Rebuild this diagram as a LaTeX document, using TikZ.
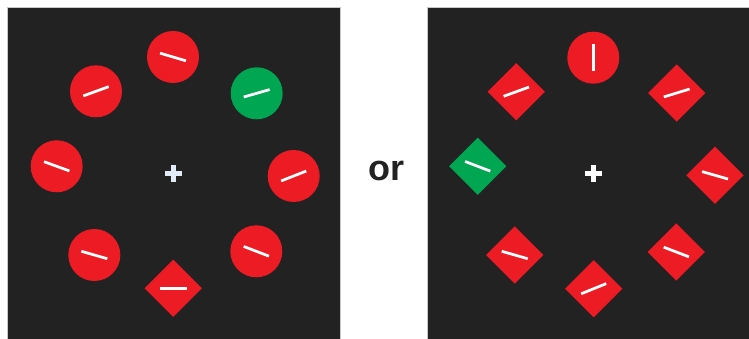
\documentclass[tikz,border=0pt]{standalone}
\usepackage{fontspec}
\setmainfont{Liberation Sans}
\usetikzlibrary{calc,shapes.geometric}
\definecolor{bgdark}{HTML}{222222}
\definecolor{stimred}{HTML}{ED1C24}
\definecolor{stimgreen}{HTML}{00A651}
\definecolor{fixblue}{HTML}{E2ECF8}
\definecolor{edgegray}{HTML}{C8C8C8}
\tikzset{
  x=1pt,y=1pt,
  panel/.style={fill=bgdark,draw=edgegray,line width=0.8pt},
  disc/.style={circle,fill=stimred,minimum size=52pt,inner sep=0pt},
  rhomb/.style={diamond,aspect=1,fill=stimred,minimum width=57.4pt,minimum height=57.4pt,inner sep=0pt},
  target/.style={fill=stimgreen},
  seg/.style={draw=white,line width=2.7pt},
}
\newcommand\segm[2]{\draw[seg] ($(#1)+(#2:13.5)$) -- ($(#1)+({#2+180}:13.5)$);}
\newcommand\fixcross[2]{\fill[#2] ($(#1)+(-8.5,-2.5)$) rectangle ($(#1)+(8.5,2.5)$);
  \fill[#2] ($(#1)+(-2.5,-8.5)$) rectangle ($(#1)+(2.5,8.5)$);}
\begin{document}
\begin{tikzpicture}
\useasboundingbox (0,0) rectangle (749,339);
\fill[white] (0,0) rectangle (749,339);
% panels
\draw[panel] (7,-2) rectangle (340,332);
\draw[panel] (427.3,-2) rectangle (752,332);
% left panel
\node[disc] (L1) at (173,282) {};
\node[disc] (L2) at (96,247.7) {};
\node[disc,target] (L3) at (256.7,245.7) {};
\node[disc] (L4) at (56.7,172.7) {};
\node[disc] (L5) at (293.7,163) {};
\node[disc] (L6) at (94.3,84) {};
\node[disc] (L7) at (256.3,87.7) {};
\node[rhomb] (L8) at (173.3,50.7) {};
\segm{L1}{-16.5}
\segm{L2}{20}
\segm{L3}{16}
\segm{L4}{-20}
\segm{L5}{21.5}
\segm{L6}{-16}
\segm{L7}{-21}
\segm{L8}{0}
\coordinate (LF) at (173.3,165.7);
\fixcross{LF}{fixblue}
% or
\node[font=\fontsize{36}{40}\selectfont\bfseries,text=bgdark,inner sep=0pt] (or) at (386,167.7) {or};
% right panel
\node[disc] (R1) at (593.3,281.3) {};
\node[rhomb] (R2) at (516.3,247.3) {};
\node[rhomb] (R3) at (676.7,246) {};
\node[rhomb,target] (R4) at (477.7,172.7) {};
\node[rhomb] (R5) at (715,163.7) {};
\node[rhomb] (R6) at (514.7,84) {};
\node[rhomb] (R7) at (676.3,87) {};
\node[rhomb] (R8) at (593.7,50.3) {};
\segm{R1}{90}
\segm{R2}{20}
\segm{R3}{17}
\segm{R4}{-21}
\segm{R5}{-16}
\segm{R6}{-16}
\segm{R7}{-21}
\segm{R8}{22}
\coordinate (RF) at (593.7,165.3);
\fixcross{RF}{white}
\end{tikzpicture}
\end{document}
